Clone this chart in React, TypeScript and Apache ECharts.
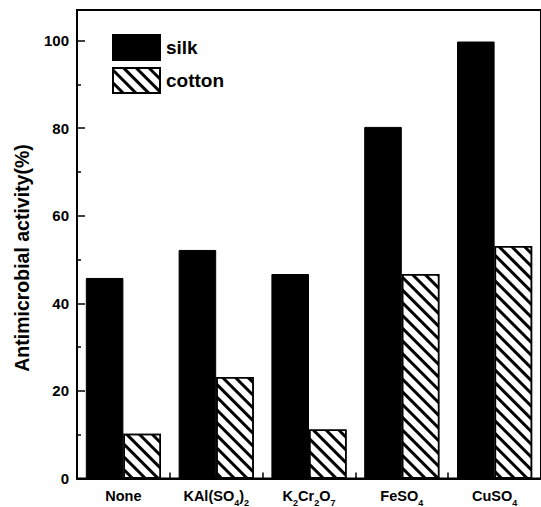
import React, { useEffect, useRef } from "react";
import * as echarts from "echarts";

const categories = ["None", "KAl(SO4)2", "K2Cr2O7", "FeSO4", "CuSO4"];
const silkValues = [45.8, 52.2, 46.7, 80.3, 99.8];
const cottonValues = [10.2, 23.2, 11.2, 46.7, 53.1];
const seriesNames = ["silk", "cotton"];
const yAxisTitle = "Antimicrobial activity(%)";

const FONT = "'Liberation Sans', Arial, Helvetica, sans-serif";

function toRich(s: string): string {
  return s
    .split(/(\d)/)
    .filter((p) => p.length > 0)
    .map((p) => (/^\d$/.test(p) ? `{s|${p}}` : `{a|${p}}`))
    .join("");
}

export default function App() {
  const ref = useRef<HTMLDivElement>(null);
  useEffect(() => {
    if (!ref.current) return;
    const chart = echarts.init(ref.current, undefined, { renderer: "svg" });
    const hatch = {
      symbol: "rect",
      symbolSize: 1,
      color: "#000",
      dashArrayX: [1, 0],
      dashArrayY: [2.6, 5.2],
      rotation: Math.PI / 4,
    };
    chart.setOption({
      animation: false,
      backgroundColor: "#fff",
      textStyle: { fontFamily: FONT, color: "#000" },
      grid: {
        left: 77,
        top: 10,
        width: 469,
        height: 468.5,
        show: true,
        borderColor: "#000",
        borderWidth: 2,
        backgroundColor: "transparent",
      },
      legend: {
        data: seriesNames,
        orient: "vertical",
        left: 107,
        top: 29,
        itemWidth: 47,
        itemHeight: 25,
        itemGap: 6,
        icon: "rect",
        textStyle: {
          fontFamily: FONT,
          fontSize: 19,
          fontWeight: "bold",
          color: "#000",
          padding: [0, 0, 0, 1],
        },
      },
      graphic: [
        {
          type: "text",
          x: 22,
          y: 258,
          rotation: Math.PI / 2,
          style: {
            text: yAxisTitle,
            fontFamily: FONT,
            fontSize: 19.5,
            fontWeight: "bold",
            fill: "#000",
            textAlign: "center",
            textVerticalAlign: "middle",
          },
        },
      ],
      xAxis: {
        type: "category",
        data: categories,
        axisLine: { show: true, lineStyle: { color: "#000", width: 2 } },
        axisTick: {
          show: true,
          inside: true,
          length: 6,
          alignWithLabel: false,
          lineStyle: { color: "#000", width: 1.5 },
        },
        axisLabel: {
          margin: 10,
          interval: 0,
          formatter: (v: string) => toRich(v),
          rich: {
            a: {
              fontFamily: FONT,
              fontSize: 14.5,
              fontWeight: "bold",
              color: "#000",
              lineHeight: 18,
              verticalAlign: "top",
            },
            s: {
              fontFamily: FONT,
              fontSize: 9,
              fontWeight: "bold",
              color: "#000",
              lineHeight: 9,
              padding: [9.5, 0, 0, 0],
              verticalAlign: "top",
            },
          },
        },
        splitLine: { show: false },
      },
      yAxis: {
        type: "value",
        min: 0,
        max: 107,
        interval: 20,
        axisLine: { show: true, lineStyle: { color: "#000", width: 2 } },
        axisTick: {
          show: true,
          inside: true,
          length: 8,
          lineStyle: { color: "#000", width: 1.5 },
        },
        minorTick: {
          show: true,
          splitNumber: 2,
          length: 4,
          lineStyle: { color: "#000", width: 1.5 },
        },
        axisLabel: {
          margin: 8,
          showMaxLabel: false,
          fontFamily: FONT,
          fontSize: 15,
          fontWeight: "bold",
          color: "#000",
        },
        splitLine: { show: false },
      },
      series: [
        {
          name: seriesNames[0],
          type: "bar",
          data: silkValues,
          barGap: "0%",
          barCategoryGap: "19%",
          itemStyle: { color: "#000", borderColor: "#000", borderWidth: 1 },
        },
        {
          name: seriesNames[1],
          type: "bar",
          data: cottonValues,
          barGap: "0%",
          barCategoryGap: "19%",
          itemStyle: {
            color: "#fff",
            borderColor: "#000",
            borderWidth: 1.5,
            decal: hatch,
          },
        },
      ],
    });
    return () => chart.dispose();
  }, []);
  return (
    <div
      ref={ref}
      style={{ position: "fixed", left: 0, top: 0, width: 541, height: 507 }}
    />
  );
}
